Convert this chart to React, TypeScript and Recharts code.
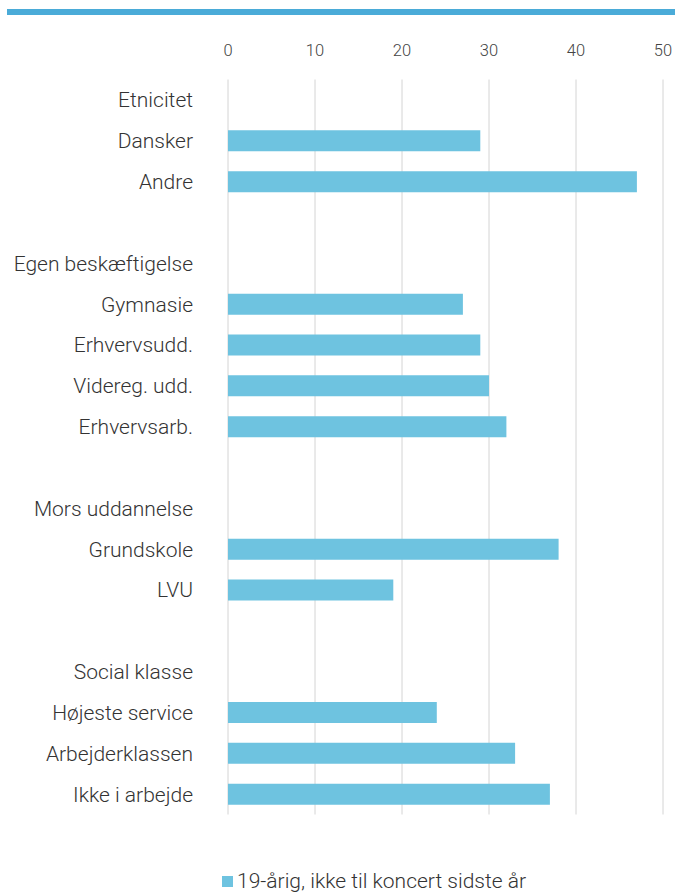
import React from 'react';
import { BarChart, Bar, XAxis, YAxis, CartesianGrid, Legend } from 'recharts';

const categories = [
  'Etnicitet', 'Dansker', 'Andre', '',
  'Egen beskæftigelse', 'Gymnasie', 'Erhvervsudd.', 'Videreg. udd.', 'Erhvervsarb.', '',
  'Mors uddannelse', 'Grundskole', 'LVU', '',
  'Social klasse', 'Højeste service', 'Arbejderklassen', 'Ikke i arbejde',
];
const values: (number | null)[] = [
  null, 29, 47, null,
  null, 27, 29, 30, 32, null,
  null, 38, 19, null,
  null, 24, 33, 37,
];
const xTicks = [0, 10, 20, 30, 40, 50];
const seriesName = '19-årig, ikke til koncert sidste år';

const data = categories.map((name, i) => ({ name, value: values[i] }));

const BAR_COLOR = '#6EC3E0';

const LegendContent = () => (
  <div style={{ display: 'flex', alignItems: 'center', fontFamily: 'Roboto, sans-serif', fontWeight: 300, fontSize: 21, color: '#333' }}>
    <span style={{ display: 'inline-block', width: 11, height: 11, background: BAR_COLOR, marginRight: 4 }} />
    <span>{seriesName}</span>
  </div>
);

export default function App() {
  return (
    <div style={{ position: 'absolute', left: 0, top: 0, width: 675, height: 896, background: '#fff' }}>
      <div style={{ position: 'absolute', left: 7, top: 9, width: 668, height: 6, background: '#4AABD8' }} />
      <BarChart
        width={675}
        height={896}
        data={data}
        layout="vertical"
        margin={{ top: 30, right: 12, left: 0, bottom: 81.5 }}
        barCategoryGap={0}
      >
        <CartesianGrid horizontal={false} stroke="#d4d4d4" />
        <XAxis
          type="number"
          orientation="top"
          domain={[0, 50]}
          ticks={xTicks}
          height={49.5}
          axisLine={false}
          tickLine={false}
          tickSize={0}
          tickMargin={24}
          tick={{ fill: '#444', fontSize: 16.5, fontFamily: 'Roboto, sans-serif', fontWeight: 300 }}
        />
        <YAxis
          type="category"
          dataKey="name"
          width={228}
          axisLine={false}
          tickLine={false}
          tickSize={0}
          tickMargin={35}
          interval={0}
          tick={{ fill: '#333', fontSize: 21, fontFamily: 'Roboto, sans-serif', fontWeight: 300 }}
        />
        <Legend
          layout="horizontal"
          verticalAlign="middle"
          align="center"
          content={<LegendContent />}
          wrapperStyle={{ top: 869, left: 222, width: 400, height: 26 }}
        />
        <Bar dataKey="value" name={seriesName} fill={BAR_COLOR} barSize={21} isAnimationActive={false} />
      </BarChart>
    </div>
  );
}
